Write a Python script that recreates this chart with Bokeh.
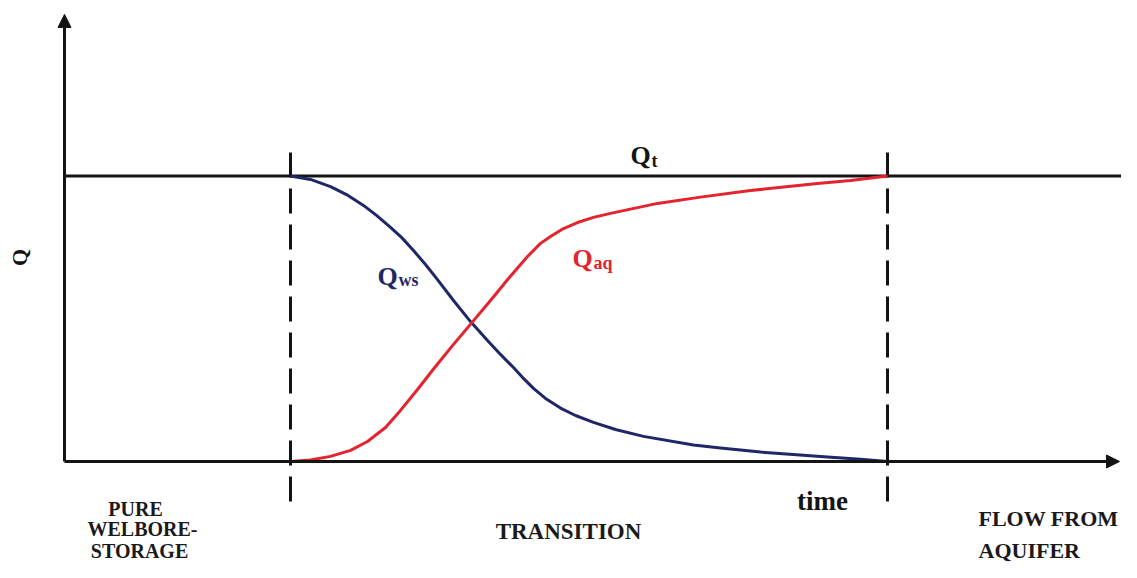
from math import pi
from bokeh.plotting import figure
from bokeh.models import Range1d, Arrow, NormalHead
from bokeh.core.properties import value
from bokeh.embed import file_html
from bokeh.resources import INLINE

# ---------------- data (read from the schematic) ----------------
# time in arbitrary units, Q normalised to total rate Qt = 1
Q_TOTAL = 1.0
phase_bounds = [2.26, 8.23]          # start / end of the transition period

time_ws = [2.26, 2.46, 2.66, 2.82, 2.99, 3.12, 3.26, 3.37, 3.49, 3.61, 3.73,
           3.89, 4.06, 4.23, 4.36, 4.49, 4.59, 4.69, 4.81, 4.96, 5.11, 5.29,
           5.51, 5.79, 6.29, 6.56, 6.96, 7.63, 7.96, 8.23]
q_ws = [1.000, 0.988, 0.963, 0.935, 0.897, 0.862, 0.820, 0.785, 0.739, 0.690,
        0.637, 0.564, 0.490, 0.424, 0.375, 0.329, 0.291, 0.256, 0.221, 0.187,
        0.161, 0.137, 0.112, 0.088, 0.058, 0.047, 0.033, 0.016, 0.008, 0.000]

time_aq = [2.26, 2.46, 2.66, 2.86, 3.03, 3.21, 3.36, 3.53, 3.69, 3.88, 4.08,
           4.26, 4.44, 4.63, 4.76, 4.86, 4.99, 5.13, 5.29, 5.46, 5.93, 6.36,
           6.86, 7.53, 7.86, 8.23]
q_aq = [0.000, 0.005, 0.018, 0.039, 0.070, 0.119, 0.179, 0.252, 0.324, 0.406,
        0.489, 0.564, 0.641, 0.718, 0.764, 0.788, 0.816, 0.837, 0.855, 0.869,
        0.904, 0.926, 0.949, 0.974, 0.984, 1.000]

phase_names = ["PURE", "WELBORE-", "STORAGE", "TRANSITION", "FLOW FROM", "AQUIFER"]

# ---------------- figure ----------------
X0, X1 = -0.64, 10.57
Y0, Y1 = -0.3538, 1.6147
p = figure(width=1121, height=562, output_backend="svg", toolbar_location=None,
           x_range=Range1d(X0, X1), y_range=Range1d(Y0, Y1),
           x_axis_type=None, y_axis_type=None, min_border=0)
p.grid.visible = False
p.outline_line_color = None
p.background_fill_color = "white"
p.border_fill_color = "white"

BLACK = "#141414"
BLUE = "#1f2766"
RED = "#e3232d"
FONT = value("Liberation Serif")

# axes with arrow heads
p.add_layout(Arrow(end=NormalHead(size=13, fill_color=BLACK, line_color=BLACK, line_width=1),
                   x_start=0, y_start=0, x_end=0, y_end=1.566,
                   line_color=BLACK, line_width=3))
p.add_layout(Arrow(end=NormalHead(size=13, fill_color=BLACK, line_color=BLACK, line_width=1),
                   x_start=0, y_start=0, x_end=10.55, y_end=0,
                   line_color=BLACK, line_width=3))

# total rate line
p.line([0, X1], [Q_TOTAL, Q_TOTAL], line_color=BLACK, line_width=3)

# phase boundaries (dashed)
p.segment(x0=phase_bounds, y0=[1.082, 1.082], x1=phase_bounds, y1=[-0.172, -0.172],
          line_color=BLACK, line_width=3, line_dash="25 11")

# curves
p.line(time_ws, q_ws, line_color=BLUE, line_width=3, line_join="round")
p.line(time_aq, q_aq, line_color=RED, line_width=3, line_join="round")

# curve labels (Q + subscript)
p.text(x=[5.66, 3.13, 5.08], y=[1.072, 0.648, 0.711], text=["Q", "Q", "Q"],
       text_color=[BLACK, BLUE, RED], text_font=FONT, text_font_style="bold",
       text_font_size="26px", text_align="left", text_baseline="alphabetic")
p.text(x=[5.87, 3.34, 5.29], y=[1.054, 0.634, 0.694], text=["t", "ws", "aq"],
       text_color=[BLACK, BLUE, RED], text_font=FONT, text_font_style="bold",
       text_font_size="18px", text_align="left", text_baseline="alphabetic")

# axis labels
p.text(x=[-0.45], y=[0.7145], text=["Q"], angle=pi / 2, text_color=BLACK,
       text_font=FONT, text_font_style="bold", text_font_size="22px",
       text_align="center", text_baseline="middle")
p.text(x=[7.58], y=[-0.137], text=["time"], text_color=BLACK, text_font=FONT,
       text_font_style="bold", text_font_size="27px", text_align="center",
       text_baseline="alphabetic")

# phase names
p.text(x=[0.71, 0.78, 0.75], y=[-0.165, -0.238, -0.312],
       text=phase_names[:3], text_color="#1a1a1a",
       text_font=FONT, text_font_style="bold", text_font_size="20px",
       text_align="center", text_baseline="alphabetic")
p.text(x=[5.04], y=[-0.245], text=phase_names[3:4], text_color="#1a1a1a",
       text_font=FONT, text_font_style="bold", text_font_size="23px",
       text_align="center", text_baseline="alphabetic")
p.text(x=[9.14, 9.14], y=[-0.200, -0.312], text=phase_names[4:],
       text_color="#1a1a1a", text_font=FONT, text_font_style="bold",
       text_font_size="22px", text_align="left", text_baseline="alphabetic")

open("out.html", "w").write(file_html(p, INLINE))
